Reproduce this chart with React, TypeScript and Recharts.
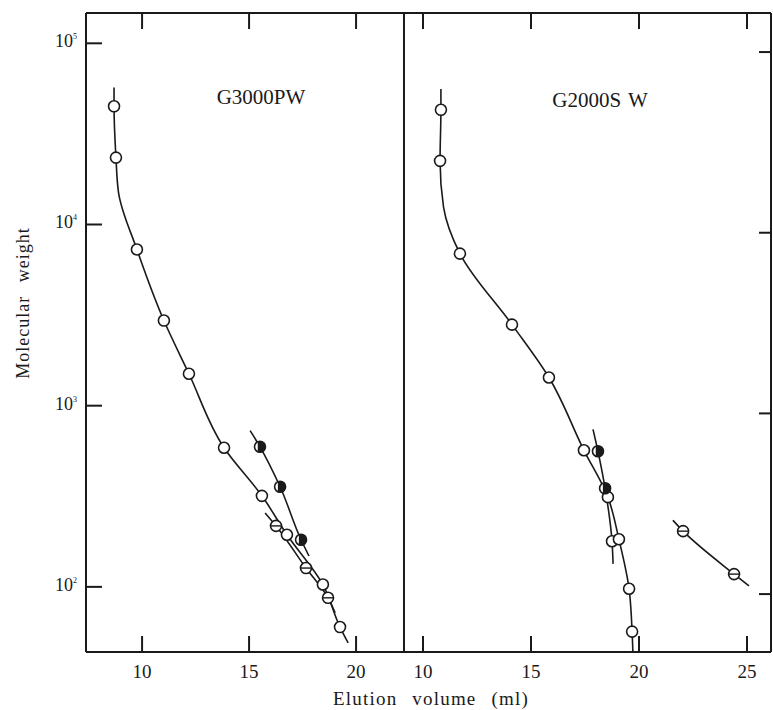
import { ComposedChart, Line, Scatter, XAxis, YAxis, ReferenceLine } from 'recharts';

// --- G3000PW (left panel) ---
const pwMainVol = [8.69, 8.69, 8.78, 8.9, 9.76, 11.02, 12.19, 13.83, 15.6, 16.77, 18.45, 19.25, 19.63];
const pwMainMw = [57000, 44900, 23400, 15000, 7280, 2950, 1500, 586, 318, 194, 103, 60, 49];
const pwStripeLineVol = [15.75, 16.26, 17.66, 18.69, 19.02];
const pwStripeLineMw = [256, 217, 127, 87, 72];
const pwHalfLineVol = [15.05, 15.51, 16.45, 17.43, 17.8];
const pwHalfLineMw = [728, 593, 357, 182, 148];

const pwOpenVol = [8.69, 8.78, 9.76, 11.02, 12.19, 13.83, 15.6, 16.77, 18.45, 19.25];
const pwOpenMw = [44900, 23400, 7280, 2950, 1500, 586, 318, 194, 103, 60];
const pwStripeVol = [16.26, 17.66, 18.69];
const pwStripeMw = [217, 127, 87];
const pwHalfVol = [15.51, 16.45, 17.43];
const pwHalfMw = [593, 357, 182];

// --- G2000SW (right panel) ---
const swMainVol = [10.83, 10.83, 10.79, 10.95, 11.71, 14.12, 15.83, 17.45, 18.56, 19.07, 19.54, 19.68, 19.72];
const swMainMw = [62400, 47900, 25000, 13900, 7660, 3100, 1580, 625, 344, 201, 107, 62, 46];
const swSteepVol = [17.87, 18.1, 18.43, 18.75, 18.8];
const swSteepMw = [816, 617, 385, 196, 147];
const swStripeLineVol = [21.57, 22.04, 24.4, 25.09];
const swStripeLineMw = [256, 223, 129, 111];

const swOpenVol = [10.83, 10.79, 11.71, 14.12, 15.83, 17.45, 18.56, 18.75, 19.07, 19.54, 19.68];
const swOpenMw = [47900, 25000, 7660, 3100, 1580, 625, 344, 196, 201, 107, 62];
const swHalfVol = [18.1, 18.43];
const swHalfMw = [617, 385];
const swStripeVol = [22.04, 24.4];
const swStripeMw = [223, 129];

const pwTicks = [10, 15, 20];
const swTicks = [10, 15, 20, 25];
const mwTicks = [100, 1000, 10000, 100000];

// both panels share one plot area; each panel gets its own pair of axes
const xDomL: [number, number] = [7.38, 39.39];
const xDomR: [number, number] = [-5.6, 26.11];
const yDomL: [number, number] = [43.7, 147000];
const yDomR: [number, number] = [47.8, 164500];
const swLeftEdge = 9.12;

type Pt = { v: number; mw: number };
const zip = (vol: number[], mw: number[]): Pt[] => vol.map((v, i) => ({ v, mw: mw[i] }));

const FONT = '"Liberation Serif", "DejaVu Serif", serif';
const INK = '#1a1a1a';
const R = 5.5;

const OpenDot = (p: any) => (
  <circle cx={p.cx} cy={p.cy} r={R} fill="#fff" stroke={INK} strokeWidth={1.6} />
);
const StripeDot = (p: any) => (
  <g>
    <circle cx={p.cx} cy={p.cy} r={R} fill="#fff" stroke={INK} strokeWidth={1.6} />
    <line x1={p.cx - R} x2={p.cx + R} y1={p.cy} y2={p.cy} stroke={INK} strokeWidth={1.4} />
  </g>
);
// mostly dark, thin light crescent on the left
const HalfDot = (p: any) => {
  const off = -2.2;
  const h = Math.sqrt(R * R - off * off);
  return (
    <g>
      <circle cx={p.cx} cy={p.cy} r={R} fill="#fff" stroke={INK} strokeWidth={1.6} />
      <path
        d={`M ${p.cx + off} ${p.cy - h} A ${R} ${R} 0 1 1 ${p.cx + off} ${p.cy + h} Z`}
        fill={INK}
      />
    </g>
  );
};

// frame tick marks: a short stroke centred on the frame, the plot clip keeps the inner half
const tickShape = (dx: number, dy: number) => (p: any) => (
  <line x1={p.cx - dx} y1={p.cy - dy} x2={p.cx + dx} y2={p.cy + dy} stroke={INK} strokeWidth={2} />
);
const TickV = tickShape(0, 16);
const TickH = tickShape(16, 0);
const TickHShort = tickShape(12, 0);

const LeftYLabel = ({ x, y, payload }: any) => {
  const exp = Math.round(Math.log10(payload.value));
  return (
    <text x={x} y={y + 4} textAnchor="end" fontFamily={FONT} fontSize={18} fill={INK}>
      10<tspan dy={-8} fontSize={8}>{exp}</tspan>
    </text>
  );
};
const BottomXLabel = ({ x, y, payload }: any) => (
  <text x={x} y={y} textAnchor="middle" fontFamily={FONT} fontSize={19} fill={INK}>
    {payload.value}
  </text>
);

function curve(data: Pt[], xId: string, yId: string) {
  return (
    <Line
      data={data}
      dataKey="mw"
      type="monotoneY"
      stroke={INK}
      strokeWidth={1.6}
      dot={false}
      activeDot={false}
      isAnimationActive={false}
      xAxisId={xId}
      yAxisId={yId}
    />
  );
}

function marks(data: Pt[], shape: any, xId: string, yId: string) {
  return (
    <Scatter data={data} dataKey="mw" shape={shape} isAnimationActive={false} xAxisId={xId} yAxisId={yId} />
  );
}

export default function App() {
  const axisLine = { stroke: INK, strokeWidth: 2 };
  return (
    <div style={{ position: 'absolute', left: 0, top: 0, width: 773, height: 710, background: '#fff', overflow: 'hidden' }}>
      <svg width={773} height={710} style={{ position: 'absolute', left: 0, top: 0 }}>
        <g fontFamily={FONT} fill={INK}>
          <text x={261} y={104} textAnchor="middle" fontSize={21}>G3000PW</text>
          <text x={600} y={107} textAnchor="middle" fontSize={21} style={{ wordSpacing: 2 }}>G2000S W</text>
          <text
            x={0}
            y={0}
            transform="translate(29 303) rotate(-90)"
            textAnchor="middle"
            fontSize={18}
            letterSpacing={1}
            style={{ wordSpacing: 8 }}
          >
            Molecular weight
          </text>
          <text x={431} y={705} textAnchor="middle" fontSize={19} letterSpacing={1.2} style={{ wordSpacing: 9 }}>
            Elution volume (ml)
          </text>
        </g>
      </svg>
      <div style={{ position: 'absolute', left: 0, top: 0 }}>
        <ComposedChart width={773} height={710} margin={{ top: 13, right: 1, bottom: 56, left: 85 }}>
          <XAxis
            xAxisId="XL"
            dataKey="v"
            type="number"
            domain={xDomL}
            allowDataOverflow
            ticks={pwTicks}
            height={1}
            tickSize={0}
            tickMargin={26}
            axisLine={axisLine}
            tickLine={false}
            tick={<BottomXLabel />}
            interval={0}
          />
          <XAxis
            xAxisId="XR"
            dataKey="v"
            type="number"
            domain={xDomR}
            allowDataOverflow
            ticks={swTicks}
            height={1}
            tickSize={0}
            tickMargin={25}
            axisLine={false}
            tickLine={false}
            tick={<BottomXLabel />}
            interval={0}
          />
          <YAxis
            yAxisId="YL"
            dataKey="mw"
            type="number"
            scale="log"
            domain={yDomL}
            allowDataOverflow
            ticks={mwTicks}
            width={1}
            tickSize={0}
            tickMargin={9}
            axisLine={axisLine}
            tickLine={false}
            tick={<LeftYLabel />}
            interval={0}
          />
          <YAxis
            yAxisId="YR"
            orientation="right"
            dataKey="mw"
            type="number"
            scale="log"
            domain={yDomR}
            allowDataOverflow
            ticks={mwTicks}
            width={1}
            axisLine={axisLine}
            tickLine={false}
            tick={false}
          />
          <ReferenceLine y={yDomL[1]} xAxisId="XL" yAxisId="YL" stroke={INK} strokeWidth={2} ifOverflow="visible" />
          <ReferenceLine x={swLeftEdge} xAxisId="XR" yAxisId="YR" stroke={INK} strokeWidth={2} ifOverflow="visible" />

          {marks(pwTicks.map((v) => ({ v, mw: yDomL[0] })), TickV, 'XL', 'YL')}
          {marks(pwTicks.map((v) => ({ v, mw: yDomL[1] })), TickV, 'XL', 'YL')}
          {marks(mwTicks.map((mw) => ({ v: xDomL[0], mw })), TickH, 'XL', 'YL')}
          {marks(swTicks.map((v) => ({ v, mw: yDomR[0] })), TickV, 'XR', 'YR')}
          {marks(swTicks.map((v) => ({ v, mw: yDomR[1] })), TickV, 'XR', 'YR')}
          {marks(mwTicks.map((mw) => ({ v: xDomR[1], mw })), TickHShort, 'XR', 'YR')}

          {curve(zip(pwMainVol, pwMainMw), 'XL', 'YL')}
          {curve(zip(pwStripeLineVol, pwStripeLineMw), 'XL', 'YL')}
          {curve(zip(pwHalfLineVol, pwHalfLineMw), 'XL', 'YL')}
          {marks(zip(pwOpenVol, pwOpenMw), OpenDot, 'XL', 'YL')}
          {marks(zip(pwStripeVol, pwStripeMw), StripeDot, 'XL', 'YL')}
          {marks(zip(pwHalfVol, pwHalfMw), HalfDot, 'XL', 'YL')}

          {curve(zip(swMainVol, swMainMw), 'XR', 'YR')}
          {curve(zip(swSteepVol, swSteepMw), 'XR', 'YR')}
          {curve(zip(swStripeLineVol, swStripeLineMw), 'XR', 'YR')}
          {marks(zip(swOpenVol, swOpenMw), OpenDot, 'XR', 'YR')}
          {marks(zip(swHalfVol, swHalfMw), HalfDot, 'XR', 'YR')}
          {marks(zip(swStripeVol, swStripeMw), StripeDot, 'XR', 'YR')}
        </ComposedChart>
      </div>
    </div>
  );
}
